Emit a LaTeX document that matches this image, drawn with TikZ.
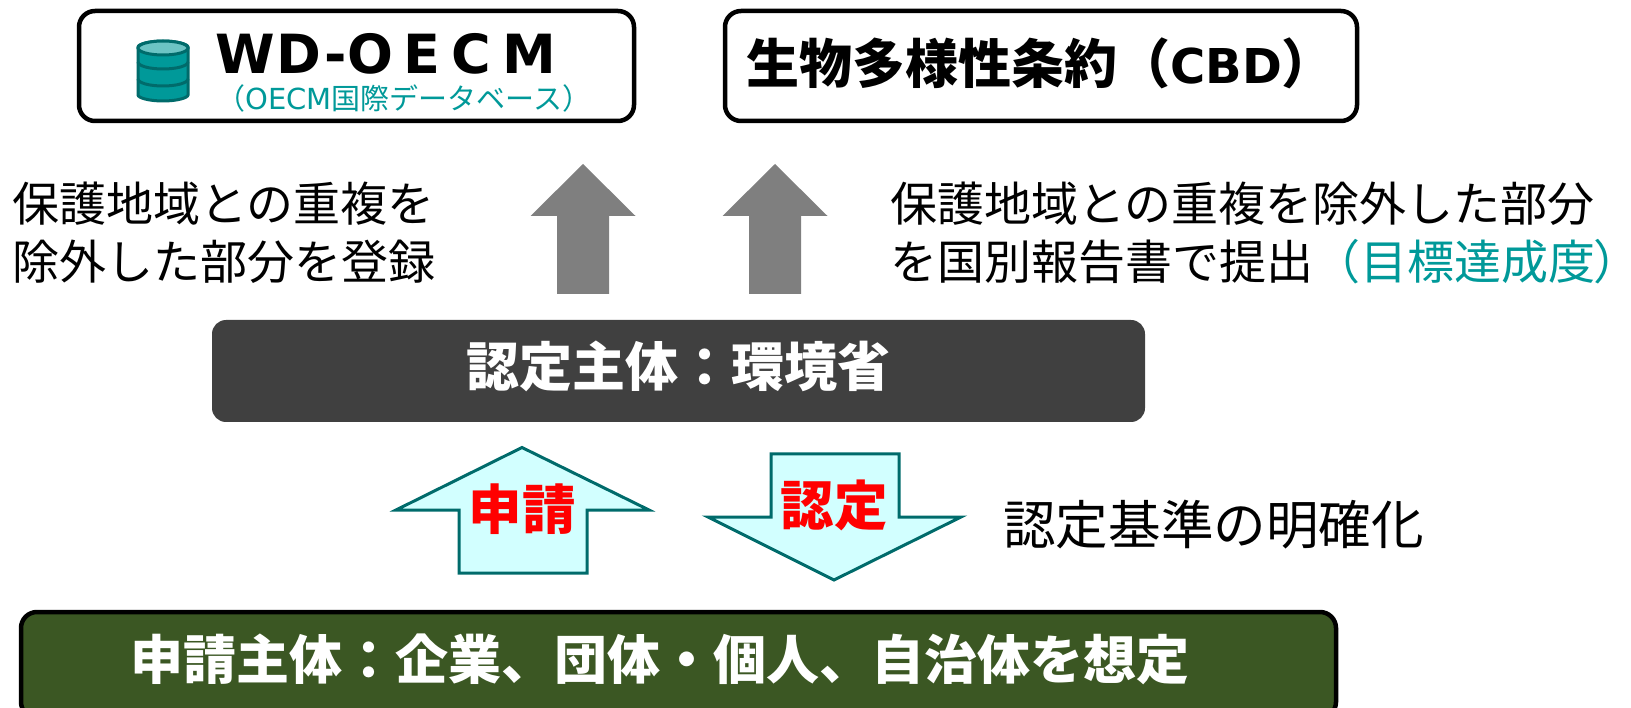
\documentclass[tikz,border=0pt]{standalone}
\usepackage{fontspec}
\setmainfont{Noto Sans CJK JP}
\newfontfamily\latinfont{DejaVu Sans}
\usepackage{tikz}
\usetikzlibrary{positioning}
\definecolor{tealtext}{HTML}{009999}
\definecolor{tealdark}{HTML}{006B6B}
\definecolor{tealpale}{HTML}{6CC4C4}
\definecolor{paleblue}{HTML}{D2FFFF}
\definecolor{darkbox}{HTML}{404040}
\definecolor{greenbox}{HTML}{3B5723}
\definecolor{arrowgray}{HTML}{7F7F7F}
\newcommand{\jpsize}[1]{\fontsize{#1}{58}\selectfont}

\begin{document}
\begin{tikzpicture}[
    x = 1pt, y = -1pt,
    titlebox/.style = {draw, line width=4.5pt, fill=white, rounded corners=16pt,
        minimum height=110pt, outer sep = 0mm},
    grayarrow/.style = {fill=arrowgray},
    palearrow/.style = {draw=tealdark, line width=3pt, fill=paleblue, line join=miter},
    plaintext/.style = {inner sep=0pt, align=left, font=\jpsize{47}},
    redtext/.style = {inner sep=0pt, text=red, font=\jpsize{53.5}\bfseries},
    cylinderpart/.style = {draw=tealdark, line width=3pt, fill=tealtext}
  ]
  \useasboundingbox (0,0) rectangle (1631,708);

  % top boxes
  \node[titlebox, minimum width=555pt] (WDBOX) at (356.5,66) {};
  \node[titlebox, minimum width=632pt] (CBDBOX) at (1041,66) {};

  % database icon
  \draw[cylinderpart, rounded corners=1pt] (138,48) -- (138,94) arc[start angle=180, end angle=0, x radius=25, y radius=7]
    -- (188,48) arc[start angle=0, end angle=-180, x radius=25, y radius=7] -- cycle;
  \foreach \y in {62,79}
  \draw[draw=tealdark, line width=3pt] (138,\y) arc[start angle=180, end angle=0, x radius=25, y radius=7];
  \draw[draw=tealdark, line width=3pt, fill=tealpale] (163,48) ellipse[x radius=25, y radius=7];

  \node[inner sep=0pt, anchor=west, font={\latinfont\fontsize{54}{58}\selectfont\bfseries}] (WDTITLE) at (215,54)
    {\addfontfeature{LetterSpace=4}WD-\addfontfeature{LetterSpace=20}OECM};
  \node[inner sep=0pt, anchor=west, text=tealtext, font=\jpsize{29}] (WDSUB) at (216,98) {（{\latinfont OECM}国際データベース）};
  \node[inner sep=0pt, anchor=west, font=\jpsize{53}\bfseries] (CBDTITLE) at (746,63) {生物多様性条約（{\latinfont\fontsize{48}{58}\selectfont CBD}）};

  % gray arrows
  \foreach \x in {583,775}
  \fill[grayarrow] (\x,164) -- (\x+52.5,216) -- (\x+26,216) -- (\x+26,294)
    -- (\x-26,294) -- (\x-26,216) -- (\x-52.5,216) -- cycle;

  % texts beside the gray arrows
  \node[plaintext, anchor=west] (LEFTNOTE) at (12,233) {保護地域との重複を\\除外した部分を登録};
  \node[plaintext, anchor=west] (RIGHTNOTE) at (890,233) {保護地域との重複を除外した部分\\を国別報告書で提出{\color{tealtext}（目標達成度{\addfontfeature{RawFeature=+palt}）}}};

  % certifying body
  \node[fill=darkbox, rounded corners=14pt, minimum width=933pt, minimum height=102pt, inner sep=0pt] (CERTBOX) at (678.5,371) {};
  \node[inner sep=0pt, text=white, font=\jpsize{53}\bfseries] (CERTTEXT) at (678.5,366) {認定主体：環境省};

  % pale arrows
  \draw[palearrow] (522,447.5) -- (649,510) -- (587,510) -- (587,573) -- (459,573) -- (459,510) -- (396,510) -- cycle;
  \draw[palearrow] (771,454) -- (899,454) -- (899,517) -- (961,517) -- (834,580) -- (708,517) -- (771,517) -- cycle;
  \node[redtext] (APPLYTEXT) at (522,509) {申請};
  \node[redtext] (CERTIFYTEXT) at (834,505) {認定};
  \node[inner sep=0pt, anchor=west, font=\jpsize{52.6}] (CRITERIA) at (1003,525) {認定基準の明確化};

  % applicant body
  \node[draw, line width=4.5pt, fill=greenbox, rounded corners=16pt, minimum width=1315pt, minimum height=106pt,
    inner sep=0pt] (APPLYBOX) at (678.5,665) {};
  \node[inner sep=0pt, text=white, font=\jpsize{53}\bfseries] (APPLYBOXTEXT) at (660,659) {申請主体：企業、団体・個人、自治体を想定};
\end{tikzpicture}
\end{document}
